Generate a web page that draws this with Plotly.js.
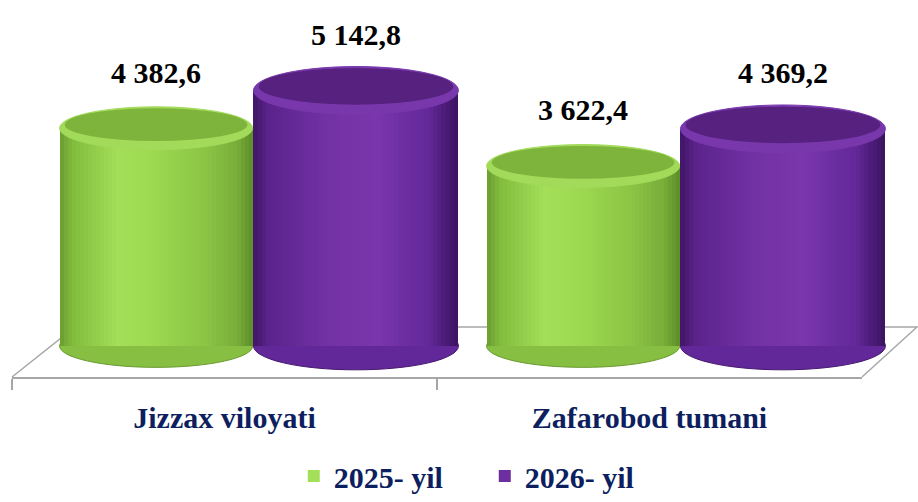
<!DOCTYPE html>
<html>
<head>
<meta charset="utf-8">
<script src="https://cdn.plot.ly/plotly-3.0.1.min.js"></script>
<style>html,body{margin:0;padding:0;background:#fff;}#chart{width:918px;height:502px;}</style>
</head>
<body>
<div id="chart"></div>
<script>
// ---- data ----
const categories = ['Jizzax viloyati', 'Zafarobod tumani'];
const seriesNames = ['2025- yil', '2026- yil'];
const values2025 = [4382.6, 3622.4];
const values2026 = [5142.8, 4369.2];

// ---- styling ----
const FONT = 'Liberation Serif';
const NAVY = '#0d1f5e';
const seriesValues = [values2025, values2026];
const barOffset = [-0.46, -0.006];
const barWidth = [0.452, 0.48];
const capRadius = [430, 480];          // vertical radius of elliptic caps (y units)
const gradients = [
  [[0, '#6a9c30'], [0.07, '#82bd3d'], [0.3, '#a3df58'], [0.5, '#9cd850'], [0.75, '#8bc545'], [0.92, '#78ad39'], [1, '#5c8c28']],
  [[0, '#3f1566'], [0.07, '#5a238a'], [0.35, '#7131a3'], [0.6, '#7a36ad'], [0.85, '#63289a'], [1, '#3b1260']]
];
const capFill = ['#7fb43c', '#56217f'];
const capRim = ['#a2da5a', '#7838ac'];
const baseFill = ['#86bf42', '#62289a'];
const baseRim = ['#6a9a30', '#45186e'];
const legendStrip = 14;
const N = 48;

function hexToRgb(h) { return [1, 3, 5].map(i => parseInt(h.slice(i, i + 2), 16)); }
function gradColor(stops, t) {
  for (let i = 0; i < stops.length - 1; i++) {
    const [t0, c0] = stops[i], [t1, c1] = stops[i + 1];
    if (t >= t0 && t <= t1) {
      const f = (t - t0) / (t1 - t0), a = hexToRgb(c0), b = hexToRgb(c1);
      return 'rgb(' + a.map((v, k) => Math.round(v + (b[k] - v) * f)).join(',') + ')';
    }
  }
  return stops[stops.length - 1][1];
}
function fmt(v) {
  const parts = v.toFixed(1).split('.');
  return parts[0].replace(/\B(?=(\d{3})+(?!\d))/g, ' ') + ',' + parts[1];
}

const traces = [];
const shapes = [];
const annotations = [];

// floor (decoration in paper coordinates)
shapes.push({
  type: 'path', xref: 'paper', yref: 'paper', layer: 'below',
  path: 'M 0 0 L 0.0695 0.1362 L 0.9989 0.1362 L 0.9382 0',
  line: {color: '#a6a6a6', width: 1.5}
});

seriesValues.forEach((vals, s) => {
  const sw = barWidth[s] / N;
  for (let k = 0; k < N; k++) {
    traces.push({
      type: 'bar', x: categories, y: vals, xaxis: 'x', yaxis: 'y',
      offset: barOffset[s] + k * sw,
      width: k === N - 1 ? sw : sw * 1.6,
      marker: {color: gradColor(gradients[s], (k + 0.5) / N), line: {width: 0}},
      name: seriesNames[s], legendgroup: seriesNames[s], legendrank: s + 1,
      showlegend: k === legendStrip, hoverinfo: 'skip'
    });
  }
  vals.forEach((v, i) => {
    const x0 = i + barOffset[s], x1 = x0 + barWidth[s], R = capRadius[s];
    // bottom cap
    shapes.push({type: 'circle', xref: 'x', yref: 'y', layer: 'below',
      x0: x0, x1: x1, y0: -R, y1: R,
      fillcolor: baseFill[s], line: {color: baseRim[s], width: 1}});
    // top cap: light bevel ring + darker face
    shapes.push({type: 'circle', xref: 'x', yref: 'y', layer: 'above',
      x0: x0, x1: x1, y0: v - R, y1: v + R,
      fillcolor: capRim[s], line: {color: capRim[s], width: 1}});
    shapes.push({type: 'circle', xref: 'x', yref: 'y', layer: 'above',
      x0: x0 + 0.012, x1: x1 - 0.012, y0: v - R * 0.6, y1: v + R * 0.93,
      fillcolor: capFill[s], line: {width: 0}});
    annotations.push({xref: 'x', yref: 'y', x: (x0 + x1) / 2, y: v, yshift: 56,
      text: fmt(v), showarrow: false, yanchor: 'middle',
      font: {family: FONT, size: 30, color: '#000', weight: 'bold'}});
  });
});

traces.push({type: 'scatter', mode: 'markers', x: categories, y: values2025,
  xaxis: 'x2', yaxis: 'y', marker: {opacity: 0}, showlegend: false, hoverinfo: 'skip'});

const layout = {
  width: 918, height: 502,
  margin: {l: 12, r: 0, t: 10, b: 125, autoexpand: false},
  paper_bgcolor: '#fff', plot_bgcolor: 'rgba(0,0,0,0)',
  barmode: 'overlay', bargap: 0,
  showlegend: true,
  xaxis: {type: 'category', domain: [0.0337, 0.9763], range: [-0.5, 1.5],
    showticklabels: false, showline: false, showgrid: false, zeroline: false, ticks: '', fixedrange: true},
  xaxis2: {type: 'category', domain: [0, 0.9382], range: [-0.5, 1.5], anchor: 'y',
    showline: true, linecolor: '#a6a6a6', linewidth: 1.5,
    ticks: 'outside', tickson: 'boundaries', ticklen: 11, tickcolor: '#a6a6a6', tickwidth: 1.5,
    showgrid: false, zeroline: false, ticklabelstandoff: 13,
    tickfont: {family: FONT, size: 30, color: NAVY, weight: 'bold'}},
  yaxis: {range: [-624, 6760], visible: false, showgrid: false, zeroline: false, fixedrange: true},
  legend: {orientation: 'h', x: 0.311, xanchor: 'left', yref: 'container', y: 0, yanchor: 'bottom',
    entrywidth: 146, entrywidthmode: 'pixels',
    font: {family: FONT, size: 30, color: NAVY, weight: 'bold'}, traceorder: 'normal', itemwidth: 30},
  shapes: shapes,
  annotations: annotations
};

Plotly.newPlot('chart', traces, layout, {displayModeBar: false, staticPlot: true});
</script>
</body>
</html>
